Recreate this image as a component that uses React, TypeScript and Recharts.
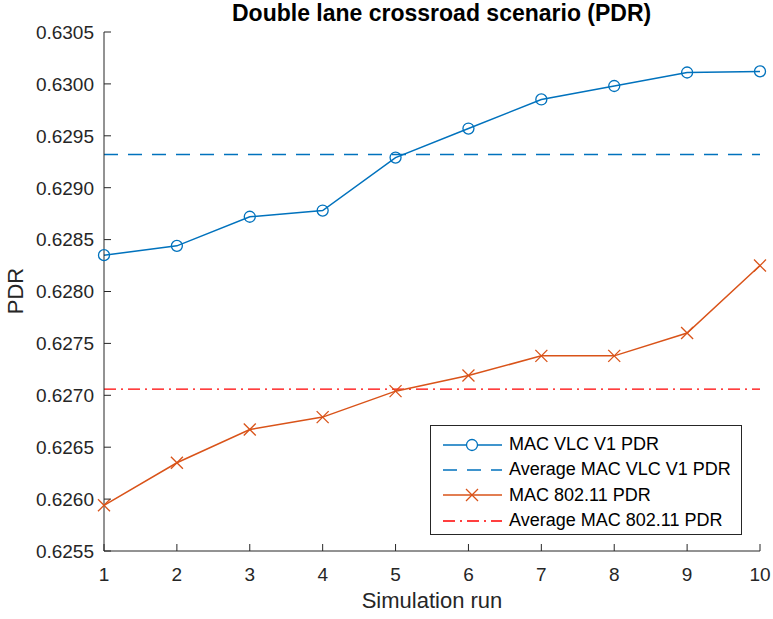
import { LineChart, Line, XAxis, YAxis, ReferenceLine } from 'recharts'

const runs = [1, 2, 3, 4, 5, 6, 7, 8, 9, 10]
const vlcPdr = [0.62835, 0.62844, 0.62872, 0.62878, 0.62929, 0.62957, 0.62985, 0.62998, 0.63011, 0.63012]
const wifiPdr = [0.62594, 0.62635, 0.62667, 0.62679, 0.62704, 0.62719, 0.62738, 0.62738, 0.6276, 0.62825]
const avgVlcPdr = 0.62932
const avgWifiPdr = 0.62706
const yTicks = [0.6255, 0.626, 0.6265, 0.627, 0.6275, 0.628, 0.6285, 0.629, 0.6295, 0.63, 0.6305]

const BLUE = '#0072BD'
const ORANGE = '#D95319'
const RED = '#FF0000'
const AXIS = '#262626'
const FONT = '"Liberation Sans", Arial, Helvetica, sans-serif'

const data = runs.map((run, i) => ({ run, vlc: vlcPdr[i], wifi: wifiPdr[i] }))

const BottomTick = ({ x, y, payload }: any) => (
  <g>
    <line x1={x} x2={x} y1={y} y2={y - 7} stroke={AXIS} strokeWidth={1} />
    <text x={x} y={y + 30} textAnchor="middle" fill={AXIS} fontSize={19} fontFamily={FONT}>
      {payload.value}
    </text>
  </g>
)

const TopTick = ({ x, y }: any) => (
  <line x1={x} x2={x} y1={y} y2={y + 7} stroke={AXIS} strokeWidth={1} />
)

const LeftTick = ({ x, y, payload }: any) => (
  <g>
    <line x1={x} x2={x + 7} y1={y} y2={y} stroke={AXIS} strokeWidth={1} />
    <text x={x - 10} y={y} dy="0.36em" textAnchor="end" fill={AXIS} fontSize={19} fontFamily={FONT}>
      {Number(payload.value).toFixed(4)}
    </text>
  </g>
)

const RightTick = ({ x, y }: any) => (
  <line x1={x} x2={x - 7} y1={y} y2={y} stroke={AXIS} strokeWidth={1} />
)

const CircleDot = ({ cx, cy }: any) => (
  <circle cx={cx} cy={cy} r={5.5} fill="none" stroke={BLUE} strokeWidth={1.3} />
)

const CrossDot = ({ cx, cy }: any) => (
  <g stroke={ORANGE} strokeWidth={1.3}>
    <line x1={cx - 6} y1={cy - 6} x2={cx + 6} y2={cy + 6} />
    <line x1={cx - 6} y1={cy + 6} x2={cx + 6} y2={cy - 6} />
  </g>
)

const legendItems = [
  { label: 'MAC VLC V1 PDR', color: BLUE, dash: undefined, marker: 'o' },
  { label: 'Average MAC VLC V1 PDR', color: BLUE, dash: '14 10', marker: '' },
  { label: 'MAC 802.11 PDR', color: ORANGE, dash: undefined, marker: 'x' },
  { label: 'Average MAC 802.11 PDR', color: RED, dash: '12 5 2 5', marker: '' }
]

const LegendBox = () => (
  <div
    style={{
      position: 'absolute',
      left: 430,
      top: 425,
      width: 312,
      height: 110,
      border: `1px solid ${AXIS}`,
      background: '#fff',
      boxSizing: 'border-box',
      paddingTop: 6,
      fontFamily: FONT
    }}
  >
    {legendItems.map((item) => (
      <div key={item.label} style={{ display: 'flex', alignItems: 'center', height: 25.3 }}>
        <svg width={74} height={20} style={{ flex: 'none' }}>
          <line x1={12} x2={71} y1={10} y2={10} stroke={item.color} strokeWidth={1.5} strokeDasharray={item.dash} />
          {item.marker === 'o' && <circle cx={41} cy={10} r={5.5} fill="#fff" stroke={item.color} strokeWidth={1.3} />}
          {item.marker === 'x' && (
            <g stroke={item.color} strokeWidth={1.3}>
              <line x1={35} y1={4} x2={47} y2={16} />
              <line x1={35} y1={16} x2={47} y2={4} />
            </g>
          )}
        </svg>
        <span style={{ fontSize: 18, color: '#000', marginLeft: 4, whiteSpace: 'nowrap' }}>{item.label}</span>
      </div>
    ))}
  </div>
)

export default function App() {
  return (
    <div style={{ position: 'absolute', left: 0, top: 0, width: 773, height: 619, background: '#fff', fontFamily: FONT }}>
      <LineChart width={773} height={619} data={data} margin={{ top: 32, right: 13, bottom: 0, left: 0 }}>
        <XAxis
          xAxisId="bottom"
          dataKey="run"
          type="number"
          domain={[1, 10]}
          ticks={runs}
          interval={0}
          height={68}
          tickSize={0}
          tickMargin={0}
          tickLine={false}
          axisLine={{ stroke: AXIS, strokeWidth: 1 }}
          tick={<BottomTick />}
        />
        <XAxis
          xAxisId="top"
          orientation="top"
          dataKey="run"
          type="number"
          domain={[1, 10]}
          ticks={runs}
          interval={0}
          height={0}
          tickSize={0}
          tickMargin={0}
          tickLine={false}
          axisLine={{ stroke: AXIS, strokeWidth: 1 }}
          tick={<TopTick />}
        />
        <YAxis
          yAxisId="left"
          type="number"
          domain={[0.6255, 0.6305]}
          ticks={yTicks}
          interval={0}
          width={104}
          tickSize={0}
          tickMargin={0}
          tickLine={false}
          axisLine={{ stroke: AXIS, strokeWidth: 1 }}
          tick={<LeftTick />}
          allowDataOverflow
        />
        <YAxis
          yAxisId="right"
          orientation="right"
          type="number"
          domain={[0.6255, 0.6305]}
          ticks={yTicks}
          interval={0}
          width={0}
          tickSize={0}
          tickMargin={0}
          tickLine={false}
          axisLine={{ stroke: AXIS, strokeWidth: 1 }}
          tick={<RightTick />}
          allowDataOverflow
        />
        <ReferenceLine
          xAxisId="bottom"
          yAxisId="left"
          y={avgVlcPdr}
          stroke={BLUE}
          strokeWidth={1.5}
          strokeDasharray="14 10"
        />
        <ReferenceLine
          xAxisId="bottom"
          yAxisId="left"
          y={avgWifiPdr}
          stroke={RED}
          strokeWidth={1.3}
          strokeDasharray="12 5 2 5"
        />
        <Line
          xAxisId="bottom"
          yAxisId="left"
          type="linear"
          dataKey="vlc"
          stroke={BLUE}
          strokeWidth={1.5}
          dot={<CircleDot />}
          activeDot={false}
          isAnimationActive={false}
        />
        <Line
          xAxisId="bottom"
          yAxisId="left"
          type="linear"
          dataKey="wifi"
          stroke={ORANGE}
          strokeWidth={1.5}
          dot={<CrossDot />}
          activeDot={false}
          isAnimationActive={false}
        />
      </LineChart>

      <LegendBox />

      <div
        style={{
          position: 'absolute',
          left: 232,
          top: 0,
          width: 414,
          textAlign: 'center',
          fontSize: 23,
          fontWeight: 'bold',
          color: '#000',
          lineHeight: '26px',
          whiteSpace: 'nowrap'
        }}
      >
        Double lane crossroad scenario (PDR)
      </div>
      <div
        style={{
          position: 'absolute',
          left: 232,
          top: 588,
          width: 400,
          textAlign: 'center',
          fontSize: 22,
          color: AXIS,
          lineHeight: '26px'
        }}
      >
        Simulation run
      </div>
      <div
        style={{
          position: 'absolute',
          left: 16,
          top: 291,
          transform: 'translate(-50%, -50%) rotate(-90deg)',
          fontSize: 22,
          color: AXIS,
          lineHeight: '24px',
          whiteSpace: 'nowrap'
        }}
      >
        PDR
      </div>
    </div>
  )
}
